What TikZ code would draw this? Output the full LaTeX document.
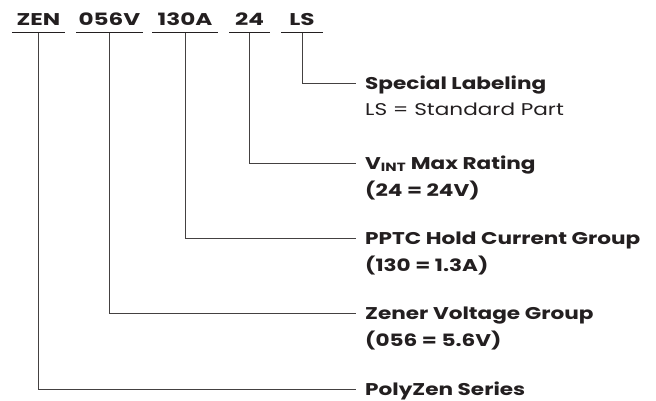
\documentclass[tikz,border=0pt]{standalone}
\usepackage{fontspec}
\setmainfont{Poppins}[FakeStretch=1.27]
\newfontfamily\codefont{Poppins}[FakeStretch=1.36]
\usepackage{tikz}
\definecolor{ink}{HTML}{231F20}
\tikzset{
  code/.style={font=\codefont\bfseries\fontsize{17}{20}\selectfont, text=ink, inner sep=0pt, text depth=6.6pt, anchor=base},
  title/.style={font=\bfseries\fontsize{17}{20}\selectfont, text=ink, inner xsep=9pt, inner ysep=0pt, text height=12pt, text depth=0pt, anchor=base west},
  detail/.style={font=\fontsize{17}{20}\selectfont, text=ink, inner sep=0pt, anchor=base west},
  value/.style={detail, font=\bfseries\fontsize{17}{20}\selectfont},
  bar/.style={line width=1.6pt, draw=ink},
  lead/.style={line width=0.9pt, draw=ink!85}
}
\begin{document}
\begin{tikzpicture}
\useasboundingbox (0pt, 0pt) rectangle (656pt, -400pt);
% part number fields
\node (zen) [code, minimum width=53pt] at (38.5pt, -25.7pt) {ZEN};
\node (volt) [code, minimum width=66pt] at (109.5pt, -25.7pt) {056V};
\node (hold) [code, minimum width=65pt] at (185pt, -25.7pt) {130A};
\node (vint) [code, minimum width=40pt] at (249.5pt, -25.7pt) {24};
\node (lbl) [code, minimum width=41pt] at (302pt, -25.7pt) {LS};
\draw [bar] (zen.south west) -- (zen.south east);
\draw [bar] (volt.south west) -- (volt.south east);
\draw [bar] (hold.south west) -- (hold.south east);
\draw [bar] (vint.south west) -- (vint.south east);
\draw [bar] (lbl.south west) -- (lbl.south east);
% descriptions
\node (special) [title] at (356pt, -89.3pt) {Special Labeling};
\node (specialx) [detail] at (365pt, -115pt) {LS = Standard Part};
\node (rating) [title] at (356pt, -169.3pt) {V\textsubscript{INT} Max Rating};
\node (ratingx) [value] at (365pt, -196pt) {(24 = 24V)};
\node (current) [title] at (356pt, -244.3pt) {PPTC Hold Current Group};
\node (currentx) [value] at (365pt, -271.7pt) {(130 = 1.3A)};
\node (zener) [title] at (356pt, -319.3pt) {Zener Voltage Group};
\node (zenerx) [value] at (365pt, -346pt) {(056 = 5.6V)};
\node (series) [title] at (356pt, -395.3pt) {PolyZen Series};
% leaders
\draw [lead] (lbl.south) |- (special.west);
\draw [lead] (vint.south) |- (rating.west);
\draw [lead] (hold.south) |- (current.west);
\draw [lead] (volt.south) |- (zener.west);
\draw [lead] (zen.south) |- (series.west);
\end{tikzpicture}
\end{document}
